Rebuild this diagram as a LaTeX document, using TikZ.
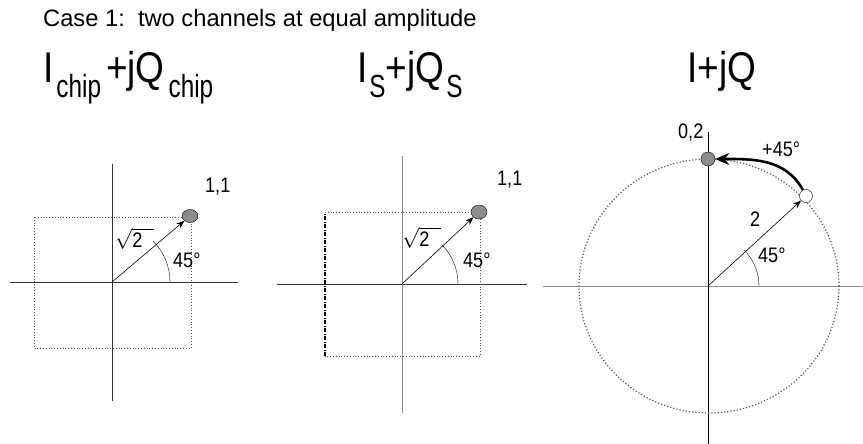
\documentclass[tikz,border=0pt]{standalone}
\usepackage{fontspec}
\setmainfont{Liberation Sans}[FakeStretch=0.86]
\newfontfamily\plainsans{Liberation Sans}
\newfontfamily\narrowsans{Liberation Sans}[FakeStretch=0.76]
\usetikzlibrary{arrows.meta,shapes.geometric}
\definecolor{axisgray}{HTML}{333333}
\definecolor{litegray}{HTML}{8A8A8A}
\definecolor{dotgray}{HTML}{555555}
\definecolor{spotgray}{HTML}{8C8C8C}
\newcommand\lowered[1]{\raisebox{-15pt}{\narrowsans\fontsize{32}{32}\selectfont #1}}
\newcommand\rootTwo{$\sqrt{\mbox{2\hspace{11pt}}}$}

\begin{document}
\begin{tikzpicture}[x=1pt,y=-1pt,
  axis/.style={axisgray, line width=0.9pt},
  guide/.style={dotgray, dotted, line width=0.8pt},
  ring/.style={dotgray, dotted, line width=1.2pt},
  vec/.style={-{Stealth[length=8pt,width=6pt]}, line width=0.6pt},
  swing/.style={-{Stealth[length=14pt,width=12pt]}, line width=2.6pt},
  spot/.style={ellipse, draw, fill=spotgray, inner sep=0pt, minimum width=16pt, minimum height=13pt},
  hollow/.style={circle, draw, fill=white, inner sep=0pt, minimum size=13pt},
  small/.style={anchor=base west, inner sep=0pt, font=\fontsize{21}{21}\selectfont},
  big/.style={anchor=base west, inner sep=0pt, font=\fontsize{43}{43}\selectfont}
]
\useasboundingbox (0,0) rectangle (863,444);

% heading and panel titles
\node[anchor=base west, inner sep=0pt, font=\plainsans\fontsize{23.7}{24}\selectfont] (title) at (43,27) {Case 1:\ \ two channels at equal amplitude};
\node[big] (lblChip) at (43,83) {I\kern3pt\lowered{chip}\kern5pt+jQ\kern4pt\lowered{chip}};
\node[big] (lblS) at (357,83) {I\kern2pt\lowered{S}+jQ\kern2pt\lowered{S}};
\node[big] (lblIQ) at (687,83) {I+jQ};

% chip constellation
\coordinate (o1) at (112,282);
\coordinate (w1) at (10,282);
\coordinate (e1) at (238,282);
\coordinate (n1) at (112,164);
\coordinate (s1) at (112,401);
\draw[axis] (w1) -- (e1);
\draw[axis] (n1) -- (s1);
\draw[guide] (34,217) rectangle (191,348);
\node[spot] (pt1) at (190,216) {};
\draw[vec] (o1) -- (pt1);
\draw (o1) ++(58,0) arc[start angle=0, end angle=-45, radius=58];
\node[small] (c1) at (205,192) {1,1};
\node[small] (a1) at (173,267) {45°};
\node[small] (r1) at (115,247) {\rootTwo};

% symbol constellation
\coordinate (o2) at (402,284);
\coordinate (w2) at (277,284);
\coordinate (e2) at (527,284);
\coordinate (n2) at (402,156);
\coordinate (s2) at (402,413);
\draw[axis] (w2) -- (e2);
\draw[litegray, line width=1pt] (n2) -- (s2);
\draw[guide] (325,212) -- (480,212) -- (480,356) -- (325,356);
\draw[line width=1.3pt, dash pattern=on 4pt off 1.5pt on 1pt off 1.5pt] (325,356) -- (325,212);
\node[spot, minimum width=16pt, minimum height=14pt] (pt2) at (479,212) {};
\draw[vec] (o2) -- (pt2);
\draw (o2) ++(56,0) arc[start angle=0, end angle=-45, radius=56];
\node[small] (c2) at (497,185) {1,1};
\node[small] (a2) at (463,267) {45°};
\node[small] (r2) at (402,246) {\rootTwo};

% combined I+jQ
\coordinate (o3) at (708,286);
\coordinate (w3) at (543,286);
\coordinate (e3) at (863,286);
\coordinate (n3) at (708,132);
\coordinate (s3) at (708,444);
\draw[litegray, line width=1pt] (w3) -- (e3);
\draw[black, line width=0.9pt] (n3) -- (s3);
\draw[ring] (709,286) ellipse[x radius=130, y radius=127];
\node[hollow] (old) at (806,196) {};
\node[spot, minimum width=14pt, minimum height=14pt] (new) at (708,159) {};
\draw[vec] (o3) -- (old);
\draw[swing] (old) to[out=118, in=0] (new);
\draw (o3) ++(51,0) arc[start angle=0, end angle=-45, radius=51];
\node[small] (c3) at (678,139) {0,2};
\node[small] (turn) at (762,157) {+45°};
\node[small] (len) at (750,226) {2};
\node[small] (a3) at (758,262) {45°};
\end{tikzpicture}
\end{document}
